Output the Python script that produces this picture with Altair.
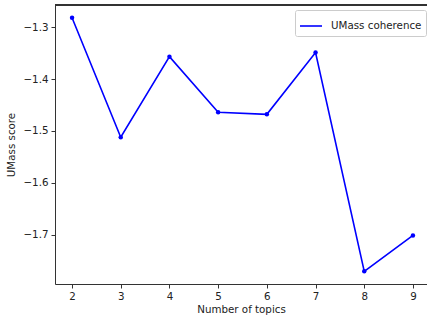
import altair as alt
import pandas as pd

topics = [2, 3, 4, 5, 6, 7, 8, 9]
scores = [-1.282, -1.512, -1.357, -1.464, -1.468, -1.349, -1.770, -1.701]
series_name = "UMass coherence"
y_ticks = [-1.7, -1.6, -1.5, -1.4, -1.3]

df = pd.DataFrame({"topics": topics, "score": scores, "series": series_name})

xmin, xmax = min(topics), max(topics)
xm = (xmax - xmin) * 0.05
ymin, ymax = min(scores), max(scores)
ym = (ymax - ymin) * 0.05
# plot area in reference extends slightly past the window edge on the right
x_domain = [xmin - xm, xmin - xm + (xmax - xmin + 2 * xm) * 372 / 375]
y_domain = [ymin - ym, ymax + ym]

FONT = "DejaVu Sans"
FS = 10.3

xenc = alt.X("topics:Q", scale=alt.Scale(domain=x_domain, nice=False, zero=False),
             axis=alt.Axis(values=topics, format="d", title="Number of topics",
                           grid=False, domainColor="#333", tickColor="#333", tickSize=4,
                           labelPadding=3, titlePadding=3, labelFontSize=FS,
                           titleFontSize=FS, titleFontWeight="normal", labelColor="#222",
                           titleColor="#222", labelFont=FONT, titleFont=FONT))
yenc = alt.Y("score:Q", scale=alt.Scale(domain=y_domain, nice=False, zero=False),
             axis=alt.Axis(values=y_ticks, format=".1f", title="UMass score",
                           grid=False, domainColor="#333", tickColor="#333", tickSize=4,
                           labelPadding=3, titlePadding=6, labelFontSize=FS,
                           titleFontSize=FS, titleFontWeight="normal", labelColor="#222",
                           titleColor="#222", labelFont=FONT, titleFont=FONT))

line = alt.Chart(df).mark_line(strokeWidth=1.6).encode(
    x=xenc, y=yenc,
    color=alt.Color("series:N", scale=alt.Scale(range=["#0000ff"]),
                    legend=alt.Legend(title=None, orient="none", legendX=240, legendY=5,
                                      symbolType="stroke", symbolStrokeWidth=1.6,
                                      symbolSize=484, labelOffset=8, labelFontSize=FS,
                                      labelFont=FONT, labelColor="#222", fillColor="white",
                                      strokeColor="#cccccc", cornerRadius=2, padding=4)),
)
pts = alt.Chart(df).mark_point(filled=True, size=20, opacity=1, color="#0000ff").encode(
    x="topics:Q", y="score:Q"
)
top_axis = alt.Chart(df).mark_rule(color="#333", strokeWidth=1).encode(
    x=alt.value(0), x2=alt.value(372), y=alt.value(0)
)

chart = alt.layer(line, pts, top_axis).properties(
    width=372, height=279,
    autosize=alt.AutoSizeParams(type="none"),
    padding={"left": 55, "top": 5, "right": 0, "bottom": 36},
).configure_view(stroke=None).configure(background="white")

chart.save("out.html", embed_options={"renderer": "svg", "actions": False})
